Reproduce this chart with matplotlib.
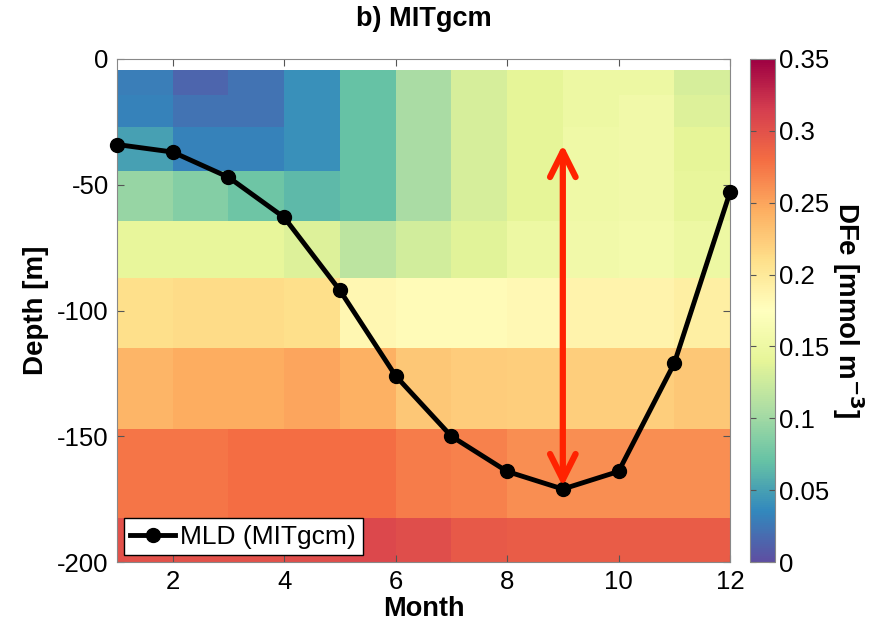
import numpy as np
import matplotlib
matplotlib.use("Agg")
import matplotlib.pyplot as plt

plt.rcParams['font.family'] = ['Liberation Sans', 'DejaVu Sans']
plt.rcParams['axes.unicode_minus'] = False

# month edges of the pcolor grid (last month column is dropped, as in pcolor)
month_edges = [1, 2, 3, 4, 5, 6, 7, 8, 9, 10, 11, 12]
depth_edges = [-4.5, -14.5, -27, -44.7, -64.6, -87.2, -114.8, -147.3, -182.7, -225]

# DFe [mmol m-3], rows = depth layers (top to bottom), cols = months 1..11
dfe = [
    [0.030, 0.015, 0.022, 0.040, 0.070, 0.105, 0.130, 0.140, 0.150, 0.150, 0.130],
    [0.032, 0.022, 0.022, 0.040, 0.070, 0.105, 0.130, 0.140, 0.150, 0.155, 0.135],
    [0.050, 0.032, 0.032, 0.040, 0.070, 0.105, 0.130, 0.140, 0.153, 0.155, 0.140],
    [0.095, 0.085, 0.075, 0.065, 0.070, 0.105, 0.130, 0.140, 0.153, 0.155, 0.143],
    [0.143, 0.143, 0.143, 0.135, 0.115, 0.128, 0.138, 0.150, 0.155, 0.158, 0.150],
    [0.210, 0.213, 0.213, 0.210, 0.184, 0.180, 0.180, 0.182, 0.188, 0.188, 0.193],
    [0.240, 0.245, 0.245, 0.250, 0.242, 0.228, 0.223, 0.222, 0.222, 0.222, 0.228],
    [0.275, 0.275, 0.280, 0.280, 0.280, 0.272, 0.268, 0.262, 0.262, 0.262, 0.262],
    [0.300, 0.300, 0.300, 0.303, 0.307, 0.303, 0.295, 0.292, 0.292, 0.292, 0.292],
]

months = [1, 2, 3, 4, 5, 6, 7, 8, 9, 10, 11, 12]
mld = [-34, -37, -47, -63, -92, -126, -150, -164, -171, -164, -121, -53]

# red double arrow at month 9
arrow_month = 9
arrow_top = -34
arrow_bottom = -170

fig = plt.figure(figsize=(8.91, 6.33), dpi=100)
ax = fig.add_axes([117 / 891, 1 - 562 / 633, 613 / 891, 503 / 633])
cax = fig.add_axes([750 / 891, 1 - 562 / 633, 25 / 891, 503 / 633])

pc = ax.pcolormesh(month_edges, depth_edges, np.array(dfe), cmap='Spectral_r',
                   vmin=0, vmax=0.35, shading='flat')
ax.plot(months, mld, '-o', color='black', lw=3.5, ms=10, label='MLD (MITgcm)',
        zorder=4, clip_on=False)
ax.annotate('', xy=(arrow_month, arrow_bottom), xytext=(arrow_month, arrow_top),
            arrowprops=dict(arrowstyle='<->', color='#ff2200', lw=4.5,
                            mutation_scale=46, capstyle='round',
                            joinstyle='round', shrinkA=0, shrinkB=0),
            zorder=5)

ax.set_xlim(1, 12)
ax.set_ylim(-200, 0)
ax.set_xticks([2, 4, 6, 8, 10, 12])
ax.set_yticks([-200, -150, -100, -50, 0])
ax.tick_params(direction='in', top=True, right=True, labelsize=18.5,
               length=5, color='#555555', pad=6)
for s in ax.spines.values():
    s.set_color('#888888')
    s.set_linewidth(0.8)
ax.set_xlabel('Month', fontsize=19.5, fontweight='bold', labelpad=1)
ax.set_ylabel('Depth [m]', fontsize=20, fontweight='bold', labelpad=6)
ax.set_title('b) MITgcm', fontsize=19.5, fontweight='bold', pad=24)

leg = ax.legend(loc='lower left', fontsize=19, frameon=True, fancybox=False,
                framealpha=1, handlelength=1.7, borderpad=0.25,
                borderaxespad=0.25, handletextpad=0.2)
leg.get_frame().set_edgecolor('black')
leg.get_frame().set_linewidth(1.0)

cb = fig.colorbar(pc, cax=cax)
cb.set_ticks([0, 0.05, 0.1, 0.15, 0.2, 0.25, 0.3, 0.35])
cb.set_ticklabels(['0', '0.05', '0.1', '0.15', '0.2', '0.25', '0.3', '0.35'])
cax.yaxis.set_ticks_position('both')
cax.yaxis.set_label_position('right')
cb.ax.tick_params(labelsize=18.5, direction='in', length=4, color='#555555',
                  labelleft=False, labelright=True, pad=3)
cb.outline.set_edgecolor('#888888')
cb.outline.set_linewidth(0.8)
cb.set_label('DFe [mmol m$^{\\mathbf{-3}}$]', fontsize=20, fontweight='bold',
             rotation=270, labelpad=26)

fig.savefig('out.png', dpi=100)
